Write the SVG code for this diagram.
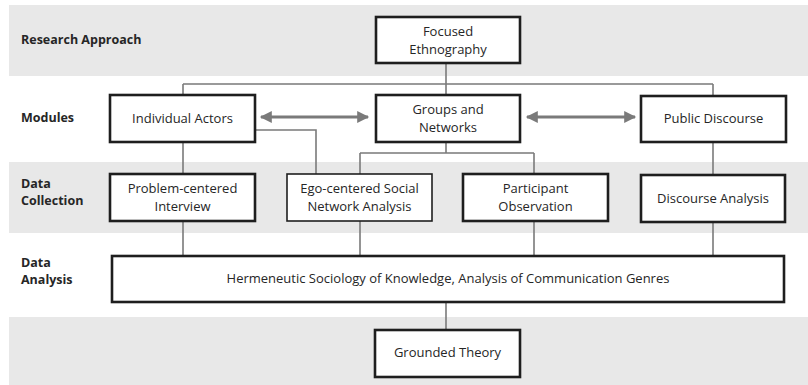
<svg xmlns="http://www.w3.org/2000/svg" width="808" height="385" viewBox="0 0 808 385">
<defs>
<style>
.band{fill:#e8e8e8}
.lbl{font-family:"Open Sans","Liberation Sans",sans-serif;font-size:12.5px;font-weight:bold;fill:#262626}
.box{fill:#ffffff;stroke:#1e1e1e;stroke-width:2.6}
.thin{stroke-width:1.6}
.t{font-family:"Open Sans","Liberation Sans",sans-serif;font-size:13px;fill:#262626;text-anchor:middle}
.c{fill:none;stroke:#7a7a7a;stroke-width:1.6}
.arr{fill:none;stroke:#7a7a7a;stroke-width:3;marker-start:url(#ah);marker-end:url(#ah)}
</style>
<marker id="ah" viewBox="0 0 10 10" refX="9" refY="5" markerWidth="14" markerHeight="12" markerUnits="userSpaceOnUse" orient="auto-start-reverse">
<path d="M0,0 L10,5 L0,10 Z" fill="#7a7a7a"/>
</marker>
</defs>
<rect class="band" x="9" y="5" width="799" height="71"/>
<rect class="band" x="9" y="162" width="799" height="71"/>
<rect class="band" x="9" y="317" width="799" height="68"/>
<g id="row-labels">
<text class="lbl" x="21" y="44">Research Approach</text>
<text class="lbl" x="21" y="122">Modules</text>
<text class="lbl" x="21" y="188">Data</text>
<text class="lbl" x="21" y="205">Collection</text>
<text class="lbl" x="21" y="267">Data</text>
<text class="lbl" x="21" y="284">Analysis</text>
</g>
<g id="connectors">
<path class="c" d="M446,63 V84 M183,84 H713 M446,84 V95 M183,84 V95 M713,84 V96"/>
<path class="c" d="M183,142 V174 M255,130 H316 V174"/>
<path class="c" d="M446,142 V153 M360,153 H534 M360,153 V174 M534,153 V174"/>
<path class="c" d="M713,142 V175"/>
<path class="c" d="M183,221 V256 M360,221 V256 M534,221 V256 M713,222 V256"/>
<path class="c" d="M446,302 V330"/>
<path class="arr" d="M261,117 H368"/>
<path class="arr" d="M527,117 H635"/>
</g>
<g id="focused-ethnography">
<rect class="box" x="376" y="17" width="144" height="46"/>
<text class="t" x="448" y="36">Focused</text>
<text class="t" x="448" y="54">Ethnography</text>
</g>
<g id="individual-actors">
<rect class="box" x="110" y="95" width="145" height="47"/>
<text class="t" x="182.5" y="123">Individual Actors</text>
</g>
<g id="groups-networks">
<rect class="box" x="376" y="95" width="144" height="47"/>
<text class="t" x="448" y="114">Groups and</text>
<text class="t" x="448" y="132">Networks</text>
</g>
<g id="public-discourse">
<rect class="box" x="641" y="96" width="145" height="46"/>
<text class="t" x="713.5" y="123">Public Discourse</text>
</g>
<g id="problem-centered-interview">
<rect class="box" x="110" y="174" width="145" height="47"/>
<text class="t" x="182.5" y="193">Problem-centered</text>
<text class="t" x="182.5" y="211">Interview</text>
</g>
<g id="ego-centered-sna">
<rect class="box thin" x="287" y="174" width="145" height="47"/>
<text class="t" x="359.5" y="193">Ego-centered Social</text>
<text class="t" x="359.5" y="211">Network Analysis</text>
</g>
<g id="participant-observation">
<rect class="box" x="463" y="174" width="145" height="47"/>
<text class="t" x="535.5" y="193">Participant</text>
<text class="t" x="535.5" y="211">Observation</text>
</g>
<g id="discourse-analysis">
<rect class="box" x="641" y="175" width="144" height="47"/>
<text class="t" x="713" y="203">Discourse Analysis</text>
</g>
<g id="hermeneutic">
<rect class="box" x="112" y="256" width="672" height="46"/>
<text class="t" x="448" y="283">Hermeneutic Sociology of Knowledge, Analysis of Communication Genres</text>
</g>
<g id="grounded-theory">
<rect class="box" x="375" y="330" width="145" height="47"/>
<text class="t" x="447.5" y="357">Grounded Theory</text>
</g>
</svg>
